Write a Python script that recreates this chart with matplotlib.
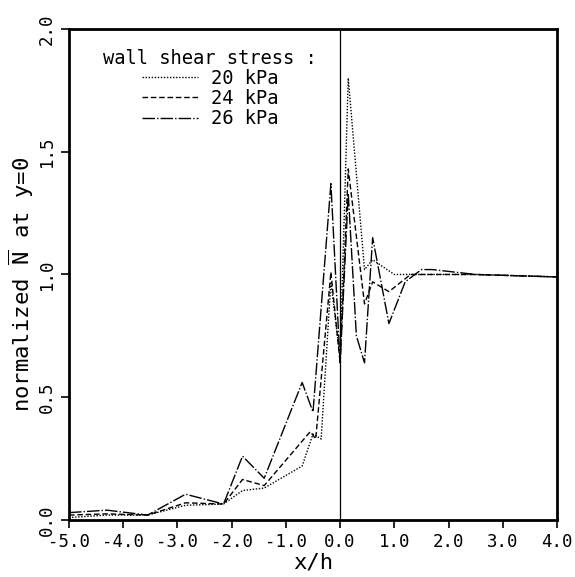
import matplotlib
matplotlib.use('Agg')
import matplotlib.pyplot as plt

# normalized N at y=0 versus x/h
x20 = [-5.0, -4.3, -3.55, -2.85, -2.15, -1.8, -1.4, -0.7, -0.5, -0.35, -0.17, 0.0, 0.15, 0.45, 0.6, 1.0, 2.5, 4.0]
y20 = [0.01, 0.02, 0.02, 0.06, 0.065, 0.12, 0.13, 0.22, 0.35, 0.33, 0.97, 0.66, 1.80, 1.02, 1.06, 1.0, 1.0, 0.99]

x24 = [-5.0, -4.3, -3.55, -2.85, -2.15, -1.8, -1.4, -0.55, -0.45, -0.17, 0.0, 0.15, 0.45, 0.6, 0.9, 1.3, 2.5, 4.0]
y24 = [0.02, 0.025, 0.02, 0.07, 0.065, 0.165, 0.14, 0.36, 0.33, 1.01, 0.64, 1.43, 0.88, 0.97, 0.93, 1.0, 1.0, 0.99]

x26 = [-5.0, -4.3, -3.55, -2.85, -2.15, -1.8, -1.4, -0.7, -0.5, -0.17, 0.0, 0.15, 0.3, 0.45, 0.6, 0.9, 1.2, 1.5, 1.7, 2.5, 4.0]
y26 = [0.03, 0.04, 0.02, 0.105, 0.065, 0.26, 0.17, 0.56, 0.44, 1.37, 0.64, 1.33, 0.75, 0.64, 1.15, 0.80, 0.97, 1.02, 1.02, 1.0, 0.99]

labels = ['20 kPa', '24 kPa', '26 kPa']
xticks = [-5, -4, -3, -2, -1, 0, 1, 2, 3, 4]
yticks = [0.0, 0.5, 1.0, 1.5, 2.0]

plt.rcParams['font.family'] = ['DejaVu Sans Mono']
plt.rcParams['mathtext.fontset'] = 'custom'
plt.rcParams['mathtext.rm'] = 'DejaVu Sans Mono'

fig = plt.figure(figsize=(5.75, 5.77), dpi=100)
ax = fig.add_axes([0.12, 0.0988, 0.8487, 0.851])

ax.plot(x20, y20, color='black', lw=1.0, dashes=(1, 1.2), label=labels[0])
ax.plot(x24, y24, color='black', lw=1.0, dashes=(4, 2), label=labels[1])
ax.plot(x26, y26, color='black', lw=1.0, dashes=(9, 1.5, 1, 1.5), label=labels[2])
ax.axvline(0, color='black', lw=0.9)

ax.set_xlim(-5, 4)
ax.set_ylim(0, 2)
ax.set_xticks(xticks)
ax.set_xticklabels(['%.1f' % v for v in xticks], fontsize=12.5)
ax.set_yticks(yticks)
ax.set_yticklabels(['%.1f' % v for v in yticks], fontsize=12.5, rotation=90, va='center')
ax.tick_params(direction='out', length=6, width=1.2)
for s in ax.spines.values():
    s.set_linewidth(2)

ax.set_xlabel('x/h', fontsize=16, labelpad=1)
ax.set_ylabel(r'normalized $\overline{\mathrm{N}}$ at y=0', fontsize=16)
ax.yaxis.set_label_coords(-0.068, 0.48)

leg = ax.legend(title='wall shear stress :', loc='upper left', bbox_to_anchor=(0.055, 0.975),
                frameon=False, fontsize=13.5, title_fontsize=13.5, handlelength=3.0,
                handletextpad=0.7, labelspacing=0.06, borderaxespad=0)

fig.savefig('out.png', dpi=100)
